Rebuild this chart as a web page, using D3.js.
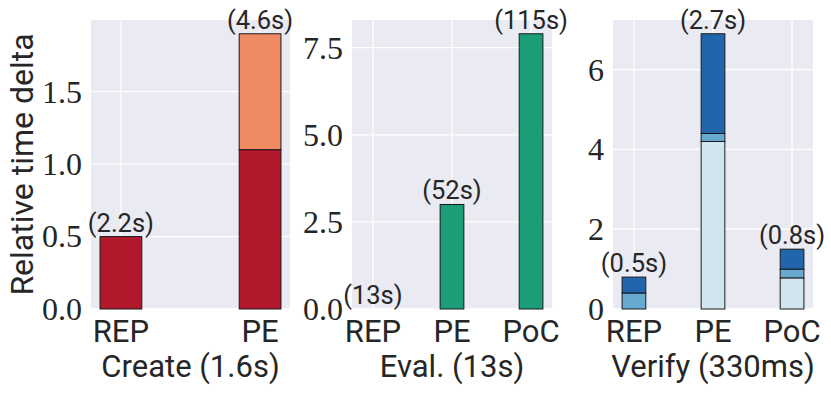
<!DOCTYPE html>
<html>
<head>
<meta charset="utf-8">
<script src="https://cdn.jsdelivr.net/npm/d3@7"></script>
<style>
  body { margin: 0; background: #fff; }
  svg { display: block; }
</style>
</head>
<body>
<div id="chart"></div>
<script>
// Create panel
const createCats = ['REP', 'PE'];
const createBase = [0.5, 1.1];
const createExtra = [0, 0.8];
const createNotes = ['(2.2s)', '(4.6s)'];
const createTicks = [0, 0.5, 1.0, 1.5];

// Eval panel
const evalCats = ['REP', 'PE', 'PoC'];
const evalValues = [0, 3.0, 7.9];
const evalNotes = ['(13s)', '(52s)', '(115s)'];
const evalTicks = [0, 2.5, 5.0, 7.5];

// Verify panel
const verifyCats = ['REP', 'PE', 'PoC'];
const verifyLow = [0, 4.2, 0.78];
const verifyMid = [0.4, 0.2, 0.22];
const verifyHigh = [0.4, 2.5, 0.5];
const verifyNotes = ['(0.5s)', '(2.7s)', '(0.8s)'];
const verifyTicks = [0, 2, 4, 6];

const titles = ['Create (1.6s)', 'Eval. (13s)', 'Verify (330ms)'];
const yTitle = 'Relative time delta';

const width = 831, height = 393;
const plotTop = 20, plotBottom = 309;
const sans = 'Roboto, "DejaVu Sans", sans-serif';
const serif = '"Liberation Serif", "DejaVu Serif", serif';
const ink = '#262626';

const svg = d3.select('#chart').append('svg')
  .attr('width', width)
  .attr('height', height);

const panels = [
  { left: 91, right: 290, cats: createCats, stacks: [createBase, createExtra],
    colors: ['#b2182b', '#ef8a62'], notes: createNotes, ticks: createTicks,
    fmt: d3.format('.1f'), title: titles[0] },
  { left: 352, right: 552, cats: evalCats, stacks: [evalValues],
    colors: ['#1b9e77'], notes: evalNotes, ticks: evalTicks,
    fmt: d3.format('.1f'), title: titles[1] },
  { left: 613, right: 813, cats: verifyCats, stacks: [verifyLow, verifyMid, verifyHigh],
    colors: ['#d1e5f0', '#67a9cf', '#2166ac'], notes: verifyNotes, ticks: verifyTicks,
    fmt: d3.format('d'), title: titles[2] }
];

const barWidth = 0.3;

panels.forEach(p => {
  const n = p.cats.length;
  // matplotlib style 5% margins around the bars
  const lo = -barWidth / 2, hi = n - 1 + barWidth / 2;
  const m = 0.05 * (hi - lo);
  const x = d3.scaleLinear().domain([lo - m, hi + m]).range([p.left, p.right]);

  const totals = d3.range(n).map(i => d3.sum(p.stacks, s => s[i]));
  const y = d3.scaleLinear().domain([0, d3.max(totals) * 1.05]).range([plotBottom, plotTop]);

  const g = svg.append('g');

  g.append('rect')
    .attr('x', p.left).attr('y', plotTop)
    .attr('width', p.right - p.left).attr('height', plotBottom - plotTop)
    .attr('fill', '#eaeaf2');

  // grid
  g.selectAll('.hgrid').data(p.ticks).join('line')
    .attr('x1', p.left).attr('x2', p.right)
    .attr('y1', d => y(d)).attr('y2', d => y(d))
    .attr('stroke', '#fff').attr('stroke-width', 1.3);
  g.selectAll('.vgrid').data(d3.range(n)).join('line')
    .attr('x1', d => x(d)).attr('x2', d => x(d))
    .attr('y1', plotTop).attr('y2', plotBottom)
    .attr('stroke', '#fff').attr('stroke-width', 1.3);

  // stacked bars
  const stacked = d3.stack().keys(d3.range(p.stacks.length))
    .value((i, k) => p.stacks[k][i])(d3.range(n));

  stacked.forEach((layer, k) => {
    g.selectAll(null).data(layer.filter(d => d[1] - d[0] > 0)).join('rect')
      .attr('x', d => x(d.data - barWidth / 2))
      .attr('width', d => x(d.data + barWidth / 2) - x(d.data - barWidth / 2))
      .attr('y', d => y(d[1]))
      .attr('height', d => y(d[0]) - y(d[1]))
      .attr('fill', p.colors[k])
      .attr('stroke', '#1a1a1a')
      .attr('stroke-width', 1);
  });

  // bar notes
  g.selectAll(null).data(d3.range(n)).join('text')
    .attr('x', i => x(i))
    .attr('y', i => y(totals[i]) - 5)
    .attr('text-anchor', 'middle')
    .style('font-family', sans)
    .style('font-size', '25.5px')
    .attr('fill', ink)
    .text(i => p.notes[i]);

  // y ticks
  g.selectAll(null).data(p.ticks).join('text')
    .attr('x', p.left - 9)
    .attr('y', d => y(d))
    .attr('dy', '0.34em')
    .attr('text-anchor', 'end')
    .style('font-family', serif)
    .style('font-size', '32px')
    .attr('fill', ink)
    .text(p.fmt);

  // x ticks
  g.selectAll(null).data(p.cats).join('text')
    .attr('x', (d, i) => x(i))
    .attr('y', 342)
    .attr('text-anchor', 'middle')
    .style('font-family', sans)
    .style('font-size', '31px')
    .attr('fill', ink)
    .text(d => d);

  g.append('text')
    .attr('x', (p.left + p.right) / 2)
    .attr('y', 377)
    .attr('text-anchor', 'middle')
    .style('font-family', sans)
    .style('font-size', '31px')
    .attr('fill', ink)
    .text(p.title);
});

svg.append('text')
  .attr('transform', `translate(33, ${(plotTop + plotBottom) / 2}) rotate(-90)`)
  .attr('text-anchor', 'middle')
  .style('font-family', sans)
  .style('font-size', '32px')
  .attr('fill', ink)
  .text(yTitle);
</script>
</body>
</html>
